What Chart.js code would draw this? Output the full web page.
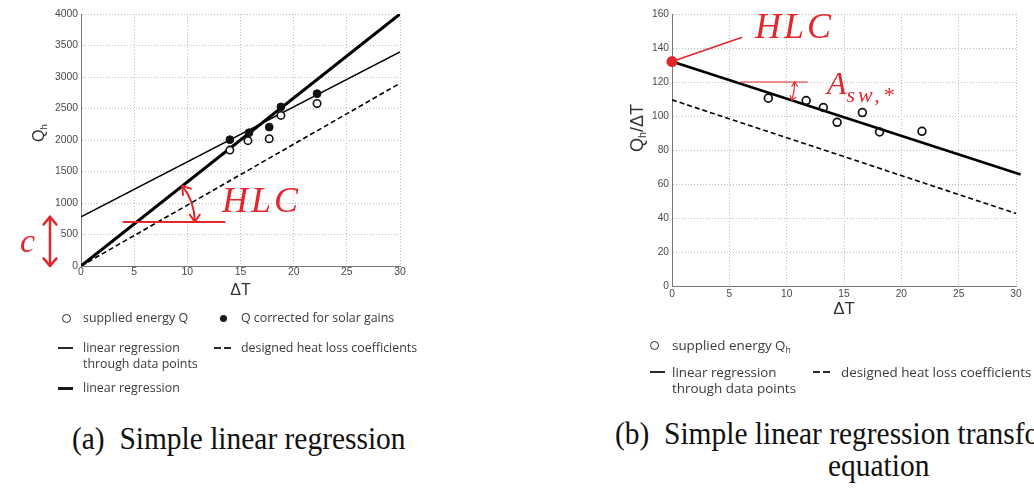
<!DOCTYPE html>
<html><head><meta charset="utf-8">
<script src="https://cdn.jsdelivr.net/npm/chart.js@4.4.1/dist/chart.umd.min.js"></script>
<style>
html,body{margin:0;padding:0;background:#fff;}
body{width:1034px;height:488px;overflow:hidden;position:relative;}
.box{position:absolute;}
.leg{position:absolute;white-space:nowrap;color:#3a3a3a;font-family:"Open Sans",sans-serif;}
.leg sub{font-size:65%;vertical-align:-0.3em;line-height:0;}
.mk{position:absolute;box-sizing:border-box;}
.red{position:absolute;white-space:nowrap;color:#e3262b;font-family:"Liberation Serif",serif;font-style:italic;}
.cap{position:absolute;white-space:nowrap;color:#111;font-family:"Liberation Serif","Times New Roman",serif;font-size:32px;line-height:32px;transform:scaleX(0.92);transform-origin:0 0;}
.ytitle{position:absolute;white-space:nowrap;color:#333;font-family:"Liberation Sans",sans-serif;transform:translate(-50%,-50%) rotate(-90deg);}
.ytitle sub{font-size:60%;vertical-align:-0.3em;line-height:0;}
</style></head>
<body>
<div class="box" style="left:0;top:0;width:420px;height:300px"><canvas id="chartA"></canvas></div>
<div class="box" style="left:580px;top:0;width:454px;height:320px"><canvas id="chartB"></canvas></div>

<div class="ytitle" style="left:39px;top:133px;font-size:16px">Q<sub>h</sub></div>
<div class="ytitle" style="left:637px;top:128px;font-size:18px">Q<sub>h</sub>/ΔT</div>

<div class="red" style="left:222px;top:182px;font-size:36px;line-height:36px;letter-spacing:3px">HLC</div>
<div class="red" style="left:20px;top:224px;font-size:34px;line-height:34px">c</div>
<div class="red" style="left:755px;top:8px;font-size:36px;line-height:36px;letter-spacing:3px">HLC</div>
<div class="red" style="left:827px;top:67px;font-size:32px;line-height:32px">A<span style="font-size:22px;position:relative;top:8px;letter-spacing:3px">sw,*</span></div>

<div class="cap" style="left:72px;top:422px">(a)&nbsp; Simple linear regression</div>
<div class="cap" style="left:615px;top:417px">(b)&nbsp; Simple linear regression transformed</div>
<div class="cap" style="left:828px;top:449px">equation</div>

<script>
// ---------- (a) Simple linear regression ----------
const dT_supplied_a   = [14.0, 15.7, 17.7, 18.8, 22.2];
const Q_supplied_a    = [1840, 1990, 2020, 2390, 2580];
const dT_corrected_a  = [14.0, 15.8, 17.7, 18.8, 22.2];
const Q_corrected_a   = [2005, 2115, 2205, 2525, 2735];
const dT_fitData_a    = [0, 30];
const Q_fitData_a     = [780, 3400];
const dT_fit_a        = [0, 30];
const Q_fit_a         = [0, 4000];
const dT_design_a     = [0, 30];
const Q_design_a      = [0, 2900];
const xTicks_a        = [0, 5, 10, 15, 20, 25, 30];
const yTicks_a        = [0, 500, 1000, 1500, 2000, 2500, 3000, 3500, 4000];
// HLC angle annotation (a)
const hlcRefX_a = [4, 13.5];
const hlcRefY_a = 700;
const hlcArcX_a = 10.7;

// ---------- (b) transformed equation ----------
const dT_b            = [8.4, 11.7, 13.2, 14.4, 16.6, 18.1, 21.8];
const QdT_b           = [110.5, 109.1, 105.0, 96.3, 102.0, 90.6, 91.0];
const dT_fitData_b    = [0, 30.4];
const QdT_fitData_b   = [132, 65.6];
const dT_design_b     = [0, 30];
const QdT_design_b    = [109.5, 42.7];
const xTicks_b        = [0, 5, 10, 15, 20, 25, 30];
const yTicks_b        = [0, 20, 40, 60, 80, 100, 120, 140, 160];
// annotations (b)
const leaderX_b = [0, 6.06];
const leaderY_b = [132, 146.2];
const aswRefX_b = [6.0, 11.8];
const aswRefY_b = 120;
const aswArcX_b = 10.7;

// labels
const LBL_SUPPLIED_A  = 'supplied energy Q';
const LBL_CORRECTED_A = 'Q corrected for solar gains';
const LBL_FITDATA     = ['linear regression', 'through data points'];
const LBL_DESIGN      = 'designed heat loss coefficients';
const LBL_FIT         = 'linear regression';
const LBL_SUPPLIED_B  = 'supplied energy Q<sub>h</sub>';
const LBL_X = 'ΔT';

const RED = '#e3262b';
const pts = (xs, ys) => xs.map((x, i) => ({x: x, y: ys[i]}));

Chart.defaults.font.family = '"Liberation Sans", Arial, sans-serif';
Chart.defaults.color = '#555';

function line(ctx, x1, y1, x2, y2) { ctx.beginPath(); ctx.moveTo(x1, y1); ctx.lineTo(x2, y2); ctx.stroke(); }
function head(ctx, x, y, dx, dy, len, half) {
  const a = Math.atan2(dy, dx);
  ctx.beginPath();
  ctx.moveTo(x - len * Math.cos(a - half), y - len * Math.sin(a - half));
  ctx.lineTo(x, y);
  ctx.lineTo(x - len * Math.cos(a + half), y - len * Math.sin(a + half));
  ctx.stroke();
}

function axes(xTicks, yTicks, yMax, opts) {
  const grid = {color: '#bdbdbd', lineWidth: 1, drawTicks: false};
  const border = {color: '#777', width: 1, dash: [1, 2]};
  const fmt = v => String(v);
  return {
    x: {type: 'linear', min: 0, max: 30, grid: grid, border: border,
        afterBuildTicks: s => { s.ticks = xTicks.map(v => ({value: v})); },
        ticks: {padding: opts.xPad, font: {size: opts.tickSize}, color: '#4a4a4a', maxRotation: 0, callback: fmt},
        title: {display: true, text: LBL_X, color: '#333', font: {size: opts.xTitleSize}, padding: {top: 0, bottom: 0}},
        afterFit: s => { s.height = opts.xH; }},
    y: {type: 'linear', min: 0, max: yMax, grid: grid, border: border,
        afterBuildTicks: s => { s.ticks = yTicks.map(v => ({value: v})); },
        ticks: {padding: 3, font: {size: opts.tickSize}, color: '#4a4a4a', callback: fmt},
        afterFit: s => { s.width = opts.yW; }}
  };
}

const annotA = {
  id: 'annotA',
  afterDatasetsDraw(chart) {
    const {ctx, chartArea} = chart; const sx = chart.scales.x, sy = chart.scales.y;
    const X = v => sx.getPixelForValue(v), Y = v => sy.getPixelForValue(v);
    ctx.save();
    ctx.strokeStyle = RED; ctx.lineCap = 'round'; ctx.lineJoin = 'round';
    ctx.lineWidth = 2;
    line(ctx, X(hlcRefX_a[0]), Y(hlcRefY_a), X(hlcRefX_a[1]), Y(hlcRefY_a));
    const xi = dT_fit_a[0] + (hlcRefY_a - Q_fit_a[0]) * (dT_fit_a[1] - dT_fit_a[0]) / (Q_fit_a[1] - Q_fit_a[0]);
    const cx = X(xi), cy = Y(hlcRefY_a);
    const r = X(hlcArcX_a) - cx;
    const ang = Math.atan2(Y(Q_fit_a[1]) - Y(Q_fit_a[0]), X(dT_fit_a[1]) - X(dT_fit_a[0]));
    ctx.beginPath(); ctx.arc(cx, cy, r, ang, 0); ctx.stroke();
    head(ctx, cx + r, cy, 0, 1, 9, 0.6);
    head(ctx, cx + r * Math.cos(ang), cy + r * Math.sin(ang), Math.sin(ang), -Math.cos(ang), 9, 0.6);
    // intercept c
    const ax = chartArea.left - 31;
    ctx.lineWidth = 2.5;
    line(ctx, ax, Y(Q_fitData_a[0]), ax, Y(0));
    head(ctx, ax, Y(Q_fitData_a[0]), 0, -1, 10, 0.7);
    head(ctx, ax, Y(0), 0, 1, 10, 0.7);
    ctx.restore();
  }
};

const annotB = {
  id: 'annotB',
  afterDatasetsDraw(chart) {
    const {ctx} = chart; const sx = chart.scales.x, sy = chart.scales.y;
    const X = v => sx.getPixelForValue(v), Y = v => sy.getPixelForValue(v);
    ctx.save();
    ctx.strokeStyle = RED; ctx.fillStyle = RED; ctx.lineCap = 'round';
    ctx.lineWidth = 1.6;
    line(ctx, X(leaderX_b[0]), Y(leaderY_b[0]), X(leaderX_b[1]), Y(leaderY_b[1]));
    ctx.beginPath(); ctx.arc(X(dT_fitData_b[0]), Y(QdT_fitData_b[0]), 5.5, 0, Math.PI * 2); ctx.fill();
    ctx.lineWidth = 1.2;
    line(ctx, X(aswRefX_b[0]), Y(aswRefY_b), X(aswRefX_b[1]), Y(aswRefY_b));
    const xi = dT_fitData_b[0] + (aswRefY_b - QdT_fitData_b[0]) * (dT_fitData_b[1] - dT_fitData_b[0]) / (QdT_fitData_b[1] - QdT_fitData_b[0]);
    const cx = X(xi), cy = Y(aswRefY_b);
    const r = X(aswArcX_b) - cx;
    const ang = Math.atan2(Y(QdT_fitData_b[1]) - Y(QdT_fitData_b[0]), X(dT_fitData_b[1]) - X(dT_fitData_b[0]));
    ctx.beginPath(); ctx.arc(cx, cy, r, 0, ang); ctx.stroke();
    head(ctx, cx + r, cy, 0, -1, 5, 0.6);
    head(ctx, cx + r * Math.cos(ang), cy + r * Math.sin(ang), -Math.sin(ang), Math.cos(ang), 5, 0.6);
    ctx.restore();
  }
};

const lineDs = (label, data, w, dash, clip) => ({label, data, showLine: true, pointRadius: 0, borderColor: '#000', borderWidth: w, borderDash: dash || [], fill: false, tension: 0, clip: clip === false ? false : undefined});

new Chart(document.getElementById('chartA'), {
  type: 'scatter',
  data: {datasets: [
    {label: LBL_SUPPLIED_A, data: pts(dT_supplied_a, Q_supplied_a), pointRadius: 3.7, pointBorderWidth: 1.6, pointBackgroundColor: '#fff', pointBorderColor: '#111'},
    {label: LBL_CORRECTED_A, data: pts(dT_corrected_a, Q_corrected_a), pointRadius: 3.9, pointBorderWidth: 1, pointBackgroundColor: '#111', pointBorderColor: '#111'},
    lineDs(LBL_FIT, pts(dT_fit_a, Q_fit_a), 3),
    lineDs(LBL_FITDATA.join(' '), pts(dT_fitData_a, Q_fitData_a), 1.5),
    lineDs(LBL_DESIGN, pts(dT_design_a, Q_design_a), 1.6, [5, 3])
  ]},
  options: {
    responsive: true, maintainAspectRatio: false, animation: false, events: [],
    layout: {padding: {top: 14, right: 20, left: 0, bottom: 0}},
    plugins: {legend: {display: false}, tooltip: {enabled: false}},
    scales: axes(xTicks_a, yTicks_a, 4000, {xPad: 0, tickSize: 10.4, xTitleSize: 16, xH: 34, yW: 81})
  },
  plugins: [annotA]
});

new Chart(document.getElementById('chartB'), {
  type: 'scatter',
  data: {datasets: [
    {label: 'supplied energy Qh', data: pts(dT_b, QdT_b), pointRadius: 3.9, pointBorderWidth: 1.7, pointBackgroundColor: 'rgba(255,255,255,0)', pointBorderColor: '#111'},
    lineDs(LBL_FITDATA.join(' '), pts(dT_fitData_b, QdT_fitData_b), 2.6, null, false),
    lineDs(LBL_DESIGN, pts(dT_design_b, QdT_design_b), 1.6, [5, 3])
  ]},
  options: {
    responsive: true, maintainAspectRatio: false, animation: false, events: [],
    layout: {padding: {top: 14, right: 18, left: 0, bottom: 0}},
    plugins: {legend: {display: false}, tooltip: {enabled: false}},
    scales: axes(xTicks_b, yTicks_b, 160, {xPad: 2, tickSize: 10.2, xTitleSize: 17, xH: 34, yW: 92})
  },
  plugins: [annotB]
});

// ---------- HTML legends ----------
function marker(kind, x, y) {
  const add = (l, t, w, h, css) => { const d = document.createElement('div'); d.className = 'mk';
    d.style.cssText = `left:${l}px;top:${t}px;width:${w}px;height:${h}px;${css}`; document.body.appendChild(d); };
  if (kind === 'open') add(x - 4.5, y - 4.5, 9, 9, 'border:1.7px solid #2a2a2a;border-radius:50%;');
  if (kind === 'filled') add(x - 3.5, y - 3.5, 7, 7, 'background:#1a1a1a;border-radius:50%;');
  if (kind === 'thin') add(x, y - 0.7, 15, 1.4, 'background:#2a2a2a;');
  if (kind === 'thick') add(x, y - 1.5, 15, 3, 'background:#1a1a1a;');
  if (kind === 'dash') { add(x, y - 0.7, 6.5, 1.4, 'background:#2a2a2a;'); add(x + 10, y - 0.7, 6.5, 1.4, 'background:#2a2a2a;'); }
}
function legendItem(kind, mx, tx, y, lines, size, lh) {
  marker(kind, mx, y);
  const d = document.createElement('div'); d.className = 'leg';
  d.style.cssText = `left:${tx}px;top:${y - lh / 2}px;font-size:${size}px;line-height:${lh}px;`;
  d.innerHTML = lines.join('<br>'); document.body.appendChild(d);
}
legendItem('open', 66, 83, 318, [LBL_SUPPLIED_A], 12.4, 16);
legendItem('filled', 223, 241, 318, [LBL_CORRECTED_A], 12.4, 16);
legendItem('thin', 58, 83, 348, LBL_FITDATA, 12.4, 16);
legendItem('dash', 214, 241, 348, [LBL_DESIGN], 12.4, 16);
legendItem('thick', 58, 83, 388, [LBL_FIT], 12.4, 16);

legendItem('open', 654, 672, 345, [LBL_SUPPLIED_B], 13.4, 16);
legendItem('thin', 650, 672, 372, LBL_FITDATA, 13.4, 16);
legendItem('dash', 813, 841, 372, [LBL_DESIGN], 13.4, 16);
</script>
</body></html>
